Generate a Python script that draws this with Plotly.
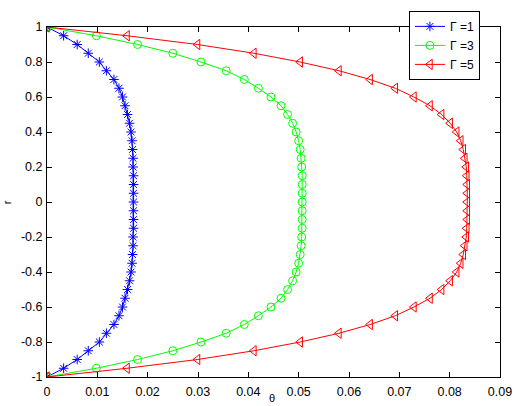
import plotly.graph_objects as go

r = [1.0, 0.95, 0.9, 0.85, 0.8, 0.75, 0.7, 0.65, 0.6, 0.55, 0.5, 0.45, 0.4, 0.35, 0.3, 0.25, 0.2, 0.15, 0.1, 0.05, 0.0,
     -0.05, -0.1, -0.15, -0.2, -0.25, -0.3, -0.35, -0.4, -0.45, -0.5, -0.55, -0.6, -0.65, -0.7, -0.75, -0.8, -0.85, -0.9, -0.95, -1.0]

theta_g1 = [0.0, 0.0033, 0.0060, 0.0082, 0.0104, 0.0118, 0.0133, 0.0143, 0.0150, 0.0155, 0.0160, 0.0164, 0.0167, 0.0169, 0.0170,
            0.0171, 0.0171, 0.0172, 0.0172, 0.0172, 0.0172,
            0.0172, 0.0172, 0.0172, 0.0171, 0.0171, 0.0170, 0.0169, 0.0167, 0.0164, 0.0160, 0.0155, 0.0150, 0.0143, 0.0133,
            0.0118, 0.0104, 0.0082, 0.0060, 0.0033, 0.0]

theta_g3 = [0.0, 0.0098, 0.0180, 0.0250, 0.0306, 0.0356, 0.0392, 0.0420, 0.0445, 0.0465, 0.0478, 0.0488, 0.0495, 0.0500, 0.0503,
            0.0505, 0.0506, 0.0507, 0.0507, 0.0507, 0.0507,
            0.0507, 0.0507, 0.0507, 0.0506, 0.0505, 0.0503, 0.0500, 0.0495, 0.0488, 0.0478, 0.0465, 0.0445, 0.0420, 0.0392,
            0.0356, 0.0306, 0.0250, 0.0180, 0.0098, 0.0]

theta_g5 = [0.0, 0.0159, 0.0299, 0.0411, 0.0503, 0.0580, 0.0642, 0.0692, 0.0729, 0.0761, 0.0784, 0.0801, 0.0814, 0.0822, 0.0827,
            0.0830, 0.0833, 0.0834, 0.0835, 0.0835, 0.0835,
            0.0835, 0.0835, 0.0834, 0.0833, 0.0830, 0.0827, 0.0822, 0.0814, 0.0801, 0.0784, 0.0761, 0.0729, 0.0692, 0.0642,
            0.0580, 0.0503, 0.0411, 0.0299, 0.0159, 0.0]

x_ticks = [0, 0.01, 0.02, 0.03, 0.04, 0.05, 0.06, 0.07, 0.08, 0.09]
x_labels = ["0", "0.01", "0.02", "0.03", "0.04", "0.05", "0.06", "0.07", "0.08", "0.09"]
y_ticks = [1, 0.8, 0.6, 0.4, 0.2, 0, -0.2, -0.4, -0.6, -0.8, -1]
y_labels = ["1", "0.8", "0.6", "0.4", "0.2", "0", "-0.2", "-0.4", "-0.6", "-0.8", "-1"]

series = [
    ("\u0393 =1", theta_g1, "rgb(0,0,255)", "asterisk-open", 8),
    ("\u0393 =3", theta_g3, "rgb(0,255,0)", "circle-open", 8),
    ("\u0393 =5", theta_g5, "rgb(255,0,0)", "triangle-left-open", 9),
]

FONT = "Liberation Sans, Arial"

fig = go.Figure()
for name, xs, col, sym, sz in series:
    fig.add_trace(go.Scatter(
        x=xs, y=r, name=name, mode="lines+markers",
        line=dict(color=col, width=1),
        marker=dict(symbol=sym, size=sz, color=col, line=dict(color=col, width=1)),
    ))

axis_common = dict(
    showgrid=False, zeroline=False, showline=True, linecolor="black", linewidth=1,
    mirror="ticks", ticks="inside", ticklen=5, tickcolor="black",
    tickfont=dict(family=FONT, size=12.5, color="black"),
)

fig.update_xaxes(range=[0, 0.09], tickvals=x_ticks, ticktext=x_labels, ticklabelstandoff=3, **axis_common)
fig.update_yaxes(range=[-1, 1], tickvals=y_ticks, ticktext=y_labels, ticklabelstandoff=1, **axis_common)

fig.add_annotation(text="\u03b8", xref="paper", yref="paper", x=0.497, y=-0.036,
                   xanchor="center", yanchor="top", showarrow=False,
                   font=dict(family=FONT, size=11, color="black"))
fig.add_annotation(text="r", xref="paper", yref="paper", x=-0.088, y=0.5,
                   xanchor="center", yanchor="middle", showarrow=False, textangle=-90,
                   font=dict(family=FONT, size=11, color="black"))

fig.update_layout(
    width=514, height=406,
    margin=dict(l=46.5, r=14, t=27, b=29.3, autoexpand=False),
    paper_bgcolor="white", plot_bgcolor="white",
    showlegend=True,
    legend=dict(x=0.799, y=1.046, xanchor="left", yanchor="top",
                bordercolor="black", borderwidth=1, bgcolor="white",
                font=dict(family=FONT, size=12, color="black"),
                tracegroupgap=0, itemwidth=30),
)

fig.write_html("out.html")
